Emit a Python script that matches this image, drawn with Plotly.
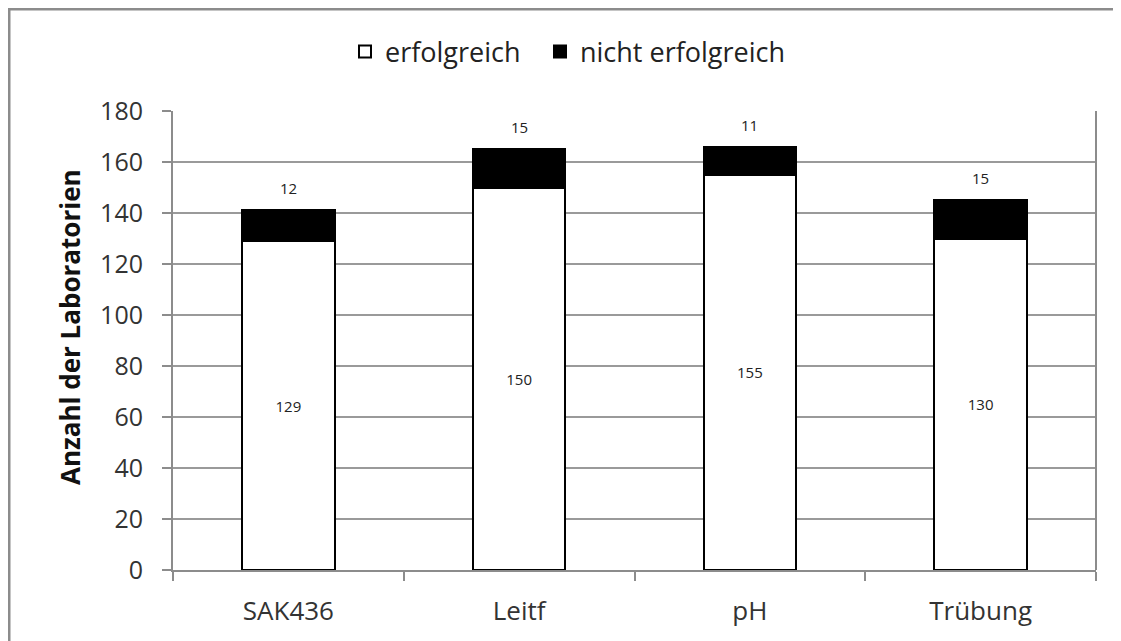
import plotly.graph_objects as go

categories = ["SAK436", "Leitf", "pH", "Trübung"]
erfolgreich = [129, 150, 155, 130]
nicht_erfolgreich = [12, 15, 11, 15]
y_ticks = [0, 20, 40, 60, 80, 100, 120, 140, 160, 180]

FONT = "Open Sans"
OFF = 8  # page body margin
W, H = 1121 - OFF, 641 - OFF
ML, MR, MT, MB = 173 - OFF, 25, 111 - OFF, 71
PW, PH = W - ML - MR, H - MT - MB

def px_x(px):
    return (px - OFF - ML) / PW

def px_y(py):
    return (H - MB - (py - OFF)) / PH

fig = go.Figure()
fig.add_trace(go.Bar(
    x=categories, y=erfolgreich, name="erfolgreich", legend="legend",
    marker=dict(color="white", line=dict(color="black", width=2)),
    text=[str(v) for v in erfolgreich], textposition="inside",
    insidetextanchor="middle",
    textfont=dict(family=FONT, size=15, color="#222222"),
))
fig.add_trace(go.Bar(
    x=categories, y=nicht_erfolgreich, name="nicht erfolgreich", legend="legend2",
    marker=dict(color="black", line=dict(color="black", width=2)),
    textposition="none",
))

totals = [a + b for a, b in zip(erfolgreich, nicht_erfolgreich)]
for c, t, v in zip(categories, totals, nicht_erfolgreich):
    fig.add_annotation(x=c, y=t, text=str(v), showarrow=False, yshift=22,
                       font=dict(family=FONT, size=15, color="#222222"))

# y-axis title
fig.add_annotation(xref="paper", yref="paper", x=px_x(70), y=px_y(327),
                   text="<b>Anzahl der Laboratorien</b>", textangle=-90,
                   showarrow=False, xanchor="center", yanchor="middle",
                   font=dict(family=FONT, size=26, color="#111111"))

# right plot edge line
fig.add_shape(type="line", xref="paper", yref="paper", x0=1, x1=1, y0=0, y1=1,
              line=dict(color="#8c8c8c", width=2))
# outer chart border
fig.add_shape(type="rect", xref="paper", yref="paper",
              x0=px_x(9), x1=px_x(1140), y0=px_y(9), y1=px_y(660),
              line=dict(color="#8c8c8c", width=3))

leg_common = dict(orientation="h", xref="container", yref="container",
                  xanchor="left", yanchor="middle", y=1 - (52 - OFF) / H,
                  font=dict(family=FONT, size=27, color="#222222"),
                  itemclick=False, bgcolor="rgba(0,0,0,0)")

fig.update_layout(
    width=W, height=H,
    margin=dict(l=ML, r=MR, t=MT, b=MB, autoexpand=False),
    paper_bgcolor="white", plot_bgcolor="white",
    barmode="stack", bargap=0.6,
    font=dict(family=FONT, size=20, color="#333333"),
    legend=dict(x=(345 - OFF) / W, **leg_common),
    legend2=dict(x=(540 - OFF) / W, **leg_common),
    showlegend=True,
)
fig.update_xaxes(
    automargin=False,
    showline=True, linecolor="#8c8c8c", linewidth=2,
    ticks="outside", tickson="boundaries", ticklen=9, tickwidth=2,
    tickcolor="#8c8c8c", showgrid=False, ticklabelstandoff=17,
    tickfont=dict(family=FONT, size=26, color="#333333"),
)
fig.update_yaxes(
    automargin=False,
    range=[0, 180], tickvals=y_ticks, showline=True, linecolor="#8c8c8c",
    linewidth=2, ticks="outside", ticklen=9, tickwidth=2, tickcolor="#8c8c8c",
    showgrid=True, gridcolor="#9a9a9a", gridwidth=2, zeroline=False,
    ticklabelstandoff=14,
    tickfont=dict(family=FONT, size=25, color="#333333"),
)

fig.write_html("out.html")
